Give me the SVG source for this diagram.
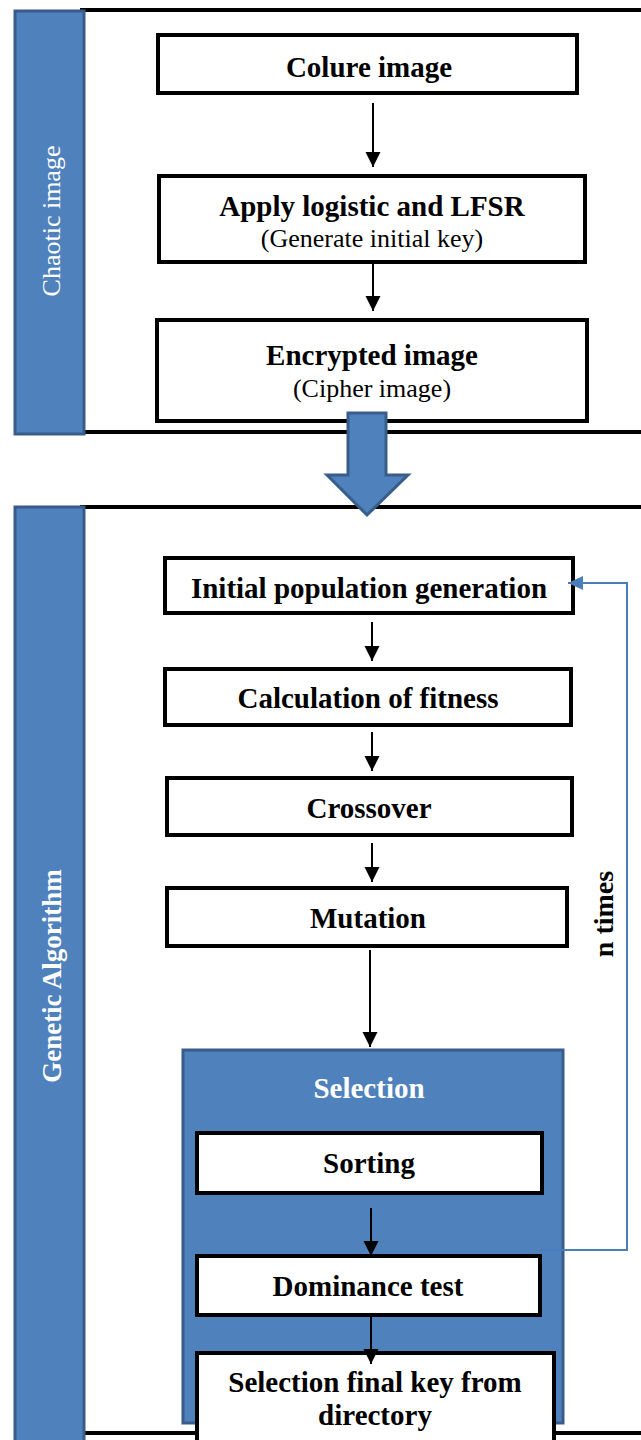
<svg xmlns="http://www.w3.org/2000/svg" width="641" height="1440" viewBox="0 0 641 1440">
<defs>
<style>
.side{fill:#4f81bd;stroke:#385d8a;stroke-width:3}
.panel{stroke:#000;stroke-width:4;fill:none}
.box{fill:#fff;stroke:#000;stroke-width:4}
.t{font-family:"Liberation Serif","Times New Roman",serif;font-weight:bold;font-size:29px;fill:#000;text-anchor:middle}
.s{font-family:"Liberation Serif","Times New Roman",serif;font-size:26px;fill:#000;text-anchor:middle}
.w{fill:#fff}
.conn{stroke:#000;stroke-width:2;fill:none;marker-end:url(#ah)}
.loop{stroke:#4a7ebb;stroke-width:2;fill:none;marker-end:url(#bh)}
</style>
<marker id="ah" markerUnits="userSpaceOnUse" markerWidth="16" markerHeight="16" refX="15" refY="7.5" orient="auto">
<path d="M0,0 L15,7.5 L0,15 z" fill="#000"/>
</marker>
<marker id="bh" markerUnits="userSpaceOnUse" markerWidth="16" markerHeight="16" refX="15" refY="7" orient="auto">
<path d="M0,0 L15,7 L0,14 z" fill="#4a7ebb"/>
</marker>
</defs>

<g id="panel-chaotic">
<line class="panel" x1="80" y1="10" x2="641" y2="10"/>
<line class="panel" x1="80" y1="432" x2="641" y2="432"/>
<rect class="side" x="15" y="11" width="69" height="423"/>
<text class="s w" transform="translate(60,221) rotate(-90)">Chaotic image</text>
</g>

<g id="panel-ga">
<line class="panel" x1="80" y1="507" x2="641" y2="507"/>
<line class="panel" x1="80" y1="1433" x2="641" y2="1433"/>
<rect class="side" x="15" y="507" width="69" height="940"/>
<text class="t w" style="font-size:27px" transform="translate(61,976) rotate(-90)">Genetic Algorithm</text>
</g>

<g id="node-colure">
<rect class="box" x="158" y="35" width="419" height="58"/>
<text class="t" x="369" y="77">Colure image</text>
</g>

<g id="node-apply">
<rect class="box" x="159" y="176" width="426" height="86"/>
<text class="t" x="372" y="216">Apply logistic and LFSR</text>
<text class="s" x="372" y="247">(Generate initial key)</text>
</g>

<g id="node-encrypted">
<rect class="box" x="157" y="320" width="430" height="101"/>
<text class="t" x="372" y="365">Encrypted image</text>
<text class="s" x="372" y="397">(Cipher image)</text>
</g>

<g id="node-selection">
<rect class="side" x="183" y="1050" width="380" height="373"/>
<text class="t w" x="369" y="1098">Selection</text>
</g>

<g id="node-initial">
<rect class="box" x="165" y="558" width="408" height="55"/>
<text class="t" x="369" y="598">Initial population generation</text>
</g>

<g id="node-fitness">
<rect class="box" x="165" y="669" width="406" height="56"/>
<text class="t" x="368" y="708">Calculation of fitness</text>
</g>

<g id="node-crossover">
<rect class="box" x="167" y="778" width="405" height="57"/>
<text class="t" x="369" y="818">Crossover</text>
</g>

<g id="node-mutation">
<rect class="box" x="167" y="888" width="400" height="58"/>
<text class="t" x="368" y="928">Mutation</text>
</g>

<g id="node-sorting">
<rect class="box" x="197" y="1133" width="345" height="60"/>
<text class="t" x="369" y="1173">Sorting</text>
</g>

<g id="node-dominance">
<rect class="box" x="197" y="1256" width="343" height="59"/>
<text class="t" x="368" y="1296">Dominance test</text>
</g>

<g id="node-final">
<rect class="box" x="197" y="1353" width="357" height="100"/>
<text class="t" x="375" y="1392">Selection final key from</text>
<text class="t" x="375" y="1425">directory</text>
</g>

<g id="connectors">
<line class="conn" x1="373" y1="103" x2="373" y2="167"/>
<line class="conn" x1="373" y1="264" x2="373" y2="311"/>
<polygon points="348,413 386,413 386,475 408,475 367,515 327,475 348,475" fill="#4f81bd" stroke="#385d8a" stroke-width="3"/>
<line class="conn" x1="372" y1="622" x2="372" y2="661"/>
<line class="conn" x1="372" y1="732" x2="372" y2="771"/>
<line class="conn" x1="372" y1="843" x2="372" y2="882"/>
<line class="conn" x1="370" y1="950" x2="370" y2="1047"/>
<line class="conn" x1="371" y1="1208" x2="371" y2="1256"/>
<line class="conn" x1="371" y1="1315" x2="371" y2="1364"/>
<polyline class="loop" points="540,1250 627,1250 627,583 568,583"/>
<text class="t" style="font-size:28px" transform="translate(613,914) rotate(-90)">n times</text>
</g>
</svg>
